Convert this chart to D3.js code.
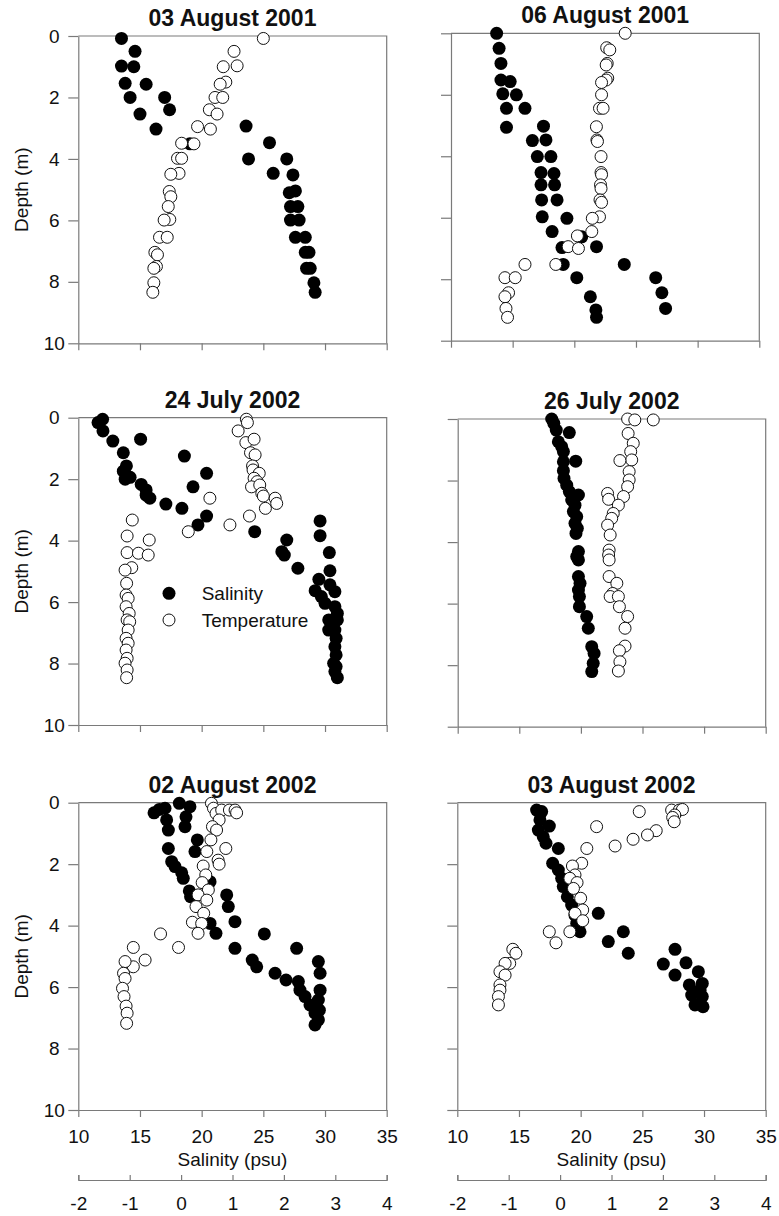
<!DOCTYPE html>
<html>
<head>
<meta charset="utf-8">
<script src="https://cdn.jsdelivr.net/npm/d3@7"></script>
<style>
  body { margin: 0; background: #fff; }
  svg { display: block; font-family: "Liberation Sans", Arial, sans-serif; }
  .axis path, .axis line { stroke: #7a7a7a; stroke-width: 1.2; }
  .axis text { font-size: 19px; fill: #111; }
</style>
</head>
<body>
<svg id="chart" width="779" height="1216"></svg>
<script>
// Six CTD casts: salinity (filled) and temperature (open) against depth.
const TITLES = ["03 August 2001", "06 August 2001", "24 July 2002",
                "26 July 2002", "02 August 2002", "03 August 2002"];
const SAL_TICKS = [10, 15, 20, 25, 30, 35];
const TEMP_TICKS = [-2, -1, 0, 1, 2, 3, 4];
const DEPTH_TICKS = [0, 2, 4, 6, 8, 10];

// each pair is [depth (m), value]
const sal_03Aug01 = [[0.08,13.5],[0.5,14.6],[0.98,13.5],[1.0,14.5],[1.54,13.8],[1.57,15.5],[2.0,14.2],
  [2.0,17.0],[2.4,17.4],[2.54,15.0],[3.03,16.3],[3.51,19.05],[2.93,23.6],[3.47,25.5],[4.0,23.8],
  [4.0,26.9],[4.47,25.8],[4.52,27.4],[5.04,27.6],[5.1,27.1],[5.55,27.2],[5.55,27.8],[5.99,27.2],
  [5.99,27.9],[6.55,27.6],[6.55,28.4],[7.04,28.4],[7.04,28.7],[7.56,28.5],[7.56,28.8],[8.03,29.1],[8.34,29.2]];
const tmp_03Aug01 = [[0.08,1.6],[0.5,1.03],[0.97,1.09],[1.0,0.82],[1.5,0.87],[1.57,0.76],[2.0,0.66],
  [2.0,0.81],[2.4,0.55],[2.54,0.70],[2.95,0.32],[3.03,0.57],[3.49,0.01],[3.51,0.25],[3.98,-0.07],
  [3.98,0.01],[4.47,-0.04],[4.5,-0.2],[5.06,-0.23],[5.23,-0.2],[5.55,-0.25],[5.97,-0.22],[5.99,-0.33],
  [6.55,-0.42],[6.55,-0.27],[7.04,-0.51],[7.12,-0.46],[7.5,-0.48],[7.56,-0.53],[8.03,-0.53],[8.34,-0.55]];

const sal_06Aug01 = [[0.0,13.7],[0.49,13.9],[0.98,14.05],[1.52,14.05],[1.57,14.8],[1.97,14.2],[2.0,15.3],
  [2.44,14.5],[2.44,16.0],[3.06,14.5],[3.02,17.5],[3.49,16.6],[3.47,17.7],[4.01,17.0],[4.01,18.1],
  [4.53,17.3],[4.56,18.35],[4.93,17.3],[4.93,18.4],[5.42,17.35],[5.42,18.6],[5.97,17.4],[6.02,19.4],
  [6.45,18.2],[6.62,20.6],[6.97,19.0],[6.94,21.8],[7.52,19.1],[7.52,24.05],[7.95,20.2],[7.95,26.6],
  [8.44,27.1],[8.95,27.4],[8.57,21.3],[9.0,21.75],[9.24,21.8]];
const tmp_06Aug01 = [[0.0,1.39],[0.47,1.03],[0.54,1.09],[0.98,1.04],[1.03,1.02],[1.46,1.05],[1.52,1.02],
  [1.6,0.93],[2.0,0.93],[2.44,0.89],[2.44,0.96],[3.04,0.83],[3.47,0.84],[3.52,0.85],[4.01,0.92],
  [4.53,0.92],[4.6,0.93],[4.93,0.91],[5.05,0.92],[5.42,0.9],[5.5,0.93],[5.97,0.89],[6.02,0.75],
  [6.45,0.74],[6.59,0.46],[6.94,0.28],[7.0,0.48],[7.52,0.04],[7.52,-0.56],[7.95,-0.95],[7.95,-0.75],
  [8.44,-0.88],[8.57,-0.95],[8.95,-0.93],[9.24,-0.9]];

const sal_24Jul02 = [[0.05,11.97],[0.16,11.6],[0.43,12.0],[0.76,12.8],[0.70,15.05],[1.14,13.65],[1.25,18.6],
  [1.57,13.9],[1.74,13.65],[1.81,20.4],[2.0,13.8],[1.94,14.2],[2.17,15.1],[2.25,19.3],[2.35,15.5],
  [2.52,15.5],[2.62,15.8],[2.81,17.1],[2.95,18.4],[3.2,20.4],[3.49,19.7],[3.71,24.3],[3.98,26.9],
  [4.36,26.5],[4.47,26.7],[4.9,27.8],[3.36,29.6],[3.84,29.6],[4.39,30.35],[4.98,30.4],[5.26,29.5],
  [5.44,30.4],[5.63,29.2],[5.82,29.7],[5.66,30.8],[6.04,30.0],[6.15,30.8],[6.37,31.0],[6.58,30.3],
  [6.58,31.0],[6.91,30.3],[6.91,30.8],[7.18,30.9],[7.45,30.8],[7.72,30.9],[7.99,30.7],[8.1,30.9],
  [8.26,30.8],[8.46,31.0]];
const tmp_24Jul02 = [[0.05,1.27],[0.16,1.29],[0.43,1.11],[0.81,1.26],[0.70,1.42],[1.14,1.35],[1.21,1.44],
  [1.57,1.39],[1.7,1.4],[1.81,1.52],[1.97,1.42],[2.08,1.48],[2.25,1.37],[2.19,1.53],[2.46,1.57],
  [2.55,1.6],[2.62,1.83],[2.79,1.86],[2.95,1.64],[3.2,1.33],[3.49,0.95],[2.62,0.56],[3.71,0.14],
  [3.33,-0.95],[3.85,-1.05],[4.39,-1.05],[4.41,-0.83],[3.98,-0.62],[4.47,-0.64],[4.88,-0.96],
  [4.96,-1.09],[5.39,-1.06],[5.77,-1.07],[5.88,-1.03],[6.15,-1.07],[6.37,-1.01],[6.58,-1.05],
  [6.64,-1.0],[6.91,-1.03],[7.18,-1.07],[7.34,-1.03],[7.56,-1.07],[7.83,-1.05],[7.99,-1.09],
  [8.21,-1.05],[8.46,-1.06]];

const sal_26Jul02 = [[0.0,17.63],[0.14,17.8],[0.36,18.0],[0.44,19.06],[0.74,18.17],[0.9,18.44],[1.06,18.58],
  [1.37,19.58],[1.39,18.58],[1.68,18.58],[1.93,18.63],[2.15,18.85],[2.36,19.06],[2.47,19.8],[2.63,19.25],
  [2.8,19.52],[3.01,19.39],[3.17,19.66],[3.39,19.52],[3.55,19.71],[3.72,19.6],[4.31,19.8],[4.47,19.66],
  [4.58,19.8],[5.12,19.8],[5.34,19.93],[5.56,19.8],[5.77,19.88],[6.1,19.88],[6.42,20.47],[6.8,20.6],
  [7.4,20.88],[7.62,21.07],[7.94,21.0],[8.21,20.88]];
const tmp_26Jul02 = [[0.0,1.31],[0.03,1.45],[0.03,1.81],[0.47,1.32],[0.79,1.42],[1.06,1.37],[1.33,1.39],
  [1.35,1.16],[1.71,1.34],[1.98,1.34],[2.2,1.31],[2.52,1.23],[2.42,0.92],[2.61,0.94],[2.8,1.13],
  [3.07,1.03],[3.23,1.0],[3.45,0.92],[3.77,0.97],[4.26,0.95],[4.42,0.94],[4.58,0.95],[5.12,0.95],
  [5.34,1.1],[5.67,1.02],[5.77,0.97],[5.77,1.13],[6.1,1.15],[6.42,1.31],[6.8,1.26],[7.38,1.26],
  [7.53,1.15],[7.89,1.16],[8.19,1.13]];

const sal_02Aug02 = [[0.33,16.14],[0.22,16.57],[0.18,17.03],[0.56,17.16],[0.89,17.3],[0.02,18.19],[0.13,19.05],
  [0.46,18.73],[0.78,18.65],[1.21,19.65],[1.59,19.46],[1.49,17.3],[1.92,17.57],[2.08,17.84],[2.28,18.38],
  [2.46,18.51],[2.87,19.0],[3.06,19.1],[2.57,20.68],[3.0,22.03],[3.38,22.16],[3.87,22.7],[3.93,20.68],
  [4.25,21.16],[4.74,22.7],[4.27,25.08],[4.74,27.7],[5.12,24.1],[5.34,24.46],[5.55,25.95],[5.77,26.84],
  [5.82,27.84],[6.1,27.97],[6.31,28.38],[6.58,28.78],[6.85,29.19],[7.23,29.19],[5.17,29.46],[5.55,29.6],
  [6.1,29.6],[6.42,29.46],[6.75,29.54],[7.07,29.46]];
const tmp_02Aug02 = [[0.02,0.59],[0.18,0.63],[0.35,0.68],[0.24,0.79],[0.24,0.94],[0.24,1.05],[0.33,1.08],
  [0.56,0.74],[0.78,0.61],[0.89,0.69],[1.21,0.58],[1.49,0.87],[1.59,0.5],[1.87,0.72],[2.0,0.74],
  [2.06,0.43],[2.35,0.48],[2.6,0.41],[2.84,0.53],[3.0,0.33],[3.17,0.5],[3.38,0.29],[3.6,0.44],
  [3.89,0.22],[3.93,0.4],[4.25,0.33],[4.27,-0.4],[4.71,-0.05],[4.71,-0.93],[5.12,-0.7],[5.34,-0.93],
  [5.17,-1.09],[5.55,-1.12],[5.72,-1.09],[6.04,-1.14],[6.31,-1.11],[6.62,-1.07],[6.85,-1.05],[7.18,-1.06]];

const sal_03Aug02 = [[0.24,16.43],[0.29,16.84],[0.56,16.7],[0.76,17.46],[0.89,16.57],[1.11,16.97],[1.32,17.19],
  [1.49,18.19],[1.97,17.73],[2.19,18.19],[2.46,18.46],[2.73,18.59],[3.06,18.92],[3.33,19.27],[3.66,19.54],
  [3.93,19.68],[4.2,19.95],[3.6,21.43],[4.2,23.46],[4.52,22.24],[4.9,23.86],[4.77,27.65],[5.25,26.7],
  [5.21,28.54],[5.61,27.65],[5.5,29.54],[5.93,28.81],[5.88,29.86],[6.1,29.68],[6.26,29.0],[6.31,29.86],
  [6.58,29.27],[6.64,29.92]];
const tmp_03Aug02 = [[0.29,1.54],[0.24,2.17],[0.24,2.32],[0.22,2.38],[0.4,2.23],[0.48,2.19],[0.62,2.22],
  [0.78,0.71],[0.91,1.87],[1.05,1.7],[1.19,1.42],[1.41,1.07],[1.49,0.52],[1.97,0.42],[2.06,0.24],
  [2.35,0.29],[2.46,0.19],[2.6,0.33],[2.79,0.26],[3.11,0.4],[3.49,0.44],[3.6,0.29],[3.84,0.44],
  [4.2,0.19],[4.2,-0.21],[4.56,-0.08],[4.77,-0.92],[4.9,-0.86],[5.23,-0.98],[5.23,-1.07],[5.5,-1.17],
  [5.61,-1.07],[5.93,-1.17],[6.1,-1.17],[6.31,-1.2],[6.58,-1.2]];

const SALINITY = [sal_03Aug01, sal_06Aug01, sal_24Jul02, sal_26Jul02, sal_02Aug02, sal_03Aug02];
const TEMPERATURE = [tmp_03Aug01, tmp_06Aug01, tmp_24Jul02, tmp_26Jul02, tmp_02Aug02, tmp_03Aug02];

// plot frames (pixels), left column then right column, row by row
const BOXES = [
  {x0: 78.3, x1: 386.7, y0: 36,    y1: 343.3},
  {x0: 451,  x1: 759.3, y0: 33.3,  y1: 340.7},
  {x0: 78.3, x1: 386.7, y0: 417.7, y1: 725},
  {x0: 457.7,x1: 765.7, y0: 419,   y1: 726.7},
  {x0: 78.3, x1: 386.7, y0: 802.7, y1: 1110},
  {x0: 457.3,x1: 765.7, y0: 802.7, y1: 1110}
];
const TEMP_AXIS_Y = 1180;

const svg = d3.select("#chart");
svg.append("rect").attr("width", 779).attr("height", 1216).attr("fill", "#fff");

BOXES.forEach((b, i) => {
  const leftCol = i % 2 === 0, bottomRow = i >= 4;
  const x = d3.scaleLinear().domain([10, 35]).range([b.x0, b.x1]);
  const xt = d3.scaleLinear().domain([-2, 4]).range([b.x0, b.x1]);
  const y = d3.scaleLinear().domain([0, 10]).range([b.y0, b.y1]);
  const g = svg.append("g");

  // top and right edges of the frame
  g.append("path").attr("d", `M${b.x0},${b.y0}H${b.x1}V${b.y1}`)
    .attr("fill", "none").attr("stroke", "#7a7a7a").attr("stroke-width", 1.2);

  const ya = g.append("g").attr("class", "axis").attr("transform", `translate(${b.x0},0)`)
    .call(d3.axisLeft(y).tickValues(DEPTH_TICKS).tickSize(10).tickSizeOuter(0)
      .tickFormat(leftCol ? d3.format("d") : ""));
  ya.selectAll("text").attr("text-anchor", "middle").attr("x", -24);

  g.append("g").attr("class", "axis").attr("transform", `translate(0,${b.y1})`)
    .call(d3.axisBottom(x).tickValues(SAL_TICKS).tickSize(7).tickSizeOuter(0)
      .tickPadding(13).tickFormat(bottomRow ? d3.format("d") : ""));

  if (leftCol) {
    g.append("text").attr("transform", `translate(28,${(b.y0 + b.y1) / 2}) rotate(-90)`)
      .attr("text-anchor", "middle").attr("font-size", 19).attr("fill", "#111")
      .text("Depth (m)");
  }

  g.append("text").attr("x", (b.x0 + b.x1) / 2).attr("y", b.y0 - 10)
    .attr("text-anchor", "middle").attr("font-size", 23).attr("font-weight", "bold")
    .attr("fill", "#111").text(TITLES[i]);

  if (bottomRow) {
    g.append("text").attr("x", (b.x0 + b.x1) / 2).attr("y", 1166)
      .attr("text-anchor", "middle").attr("font-size", 19).attr("fill", "#111")
      .text("Salinity (psu)");
    g.append("g").attr("class", "axis").attr("transform", `translate(0,${TEMP_AXIS_Y})`)
      .call(d3.axisBottom(xt).tickValues(TEMP_TICKS).tickSizeInner(-5).tickSizeOuter(-5)
        .tickPadding(17).tickFormat(d => String(d)));
  }

  g.append("g").selectAll("circle").data(SALINITY[i]).join("circle")
    .attr("cx", d => x(d[1])).attr("cy", d => y(d[0])).attr("r", 6.5).attr("fill", "#000");
  g.append("g").selectAll("circle").data(TEMPERATURE[i]).join("circle")
    .attr("cx", d => xt(d[1])).attr("cy", d => y(d[0])).attr("r", 6)
    .attr("fill", "#fff").attr("stroke", "#111").attr("stroke-width", 1);

  if (i === 2) {
    const lg = g.append("g").attr("transform", `translate(${b.x0 + 90.7},${b.y0 + 175.6})`);
    [["Salinity", "#000", "none"], ["Temperature", "#fff", "#111"]].forEach(([t, f, s], k) => {
      lg.append("circle").attr("cx", 0).attr("cy", k * 26.7).attr("r", k ? 6 : 6.5)
        .attr("fill", f).attr("stroke", s);
      lg.append("text").attr("x", 32.7).attr("y", k * 26.7).attr("dy", "0.35em")
        .attr("font-size", 19).attr("fill", "#111").text(t);
    });
  }
});
</script>
</body>
</html>
